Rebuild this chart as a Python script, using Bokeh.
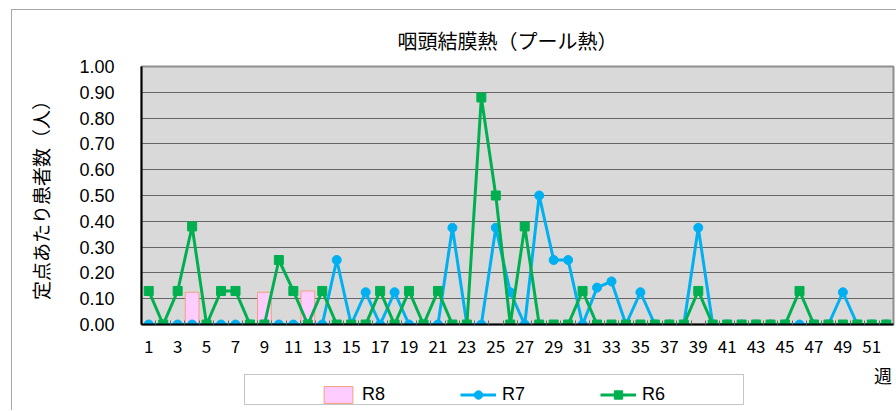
from bokeh.plotting import figure
from bokeh.layouts import column
from bokeh.models import (FixedTicker, NumeralTickFormatter, Legend, LegendItem, Range1d)
from bokeh.embed import file_html
from bokeh.resources import INLINE

# ---- data ----
weeks = list(range(1, 53))
x_tick_weeks = list(range(1, 52, 2))
y_ticks = [0.0, 0.1, 0.2, 0.3, 0.4, 0.5, 0.6, 0.7, 0.8, 0.9, 1.0]

r8 = [0, 0, 0, 0.125, 0, 0, 0, 0, 0.125, 0, 0, 0.13, 0]

r7 = [0, 0, 0, 0, 0, 0, 0, 0, 0, 0,
      0, 0, 0, 0.25, 0, 0.125, 0, 0.125, 0, 0,
      0, 0.375, 0, 0, 0.375, 0.125, 0, 0.5, 0.25, 0.25,
      0, 0.143, 0.167, 0, 0.125, 0, 0, 0, 0.375, 0,
      0, 0, 0, 0, 0, 0, 0, 0, 0.125, 0,
      0, 0]

r6 = [0.13, 0, 0.13, 0.38, 0, 0.13, 0.13, 0, 0, 0.25,
      0.13, 0, 0.13, 0, 0, 0, 0.13, 0, 0.13, 0,
      0.13, 0, 0, 0.88, 0.5, 0, 0.38, 0, 0, 0,
      0.13, 0, 0, 0, 0, 0, 0, 0, 0.13, 0,
      0, 0, 0, 0, 0, 0.13, 0, 0, 0, 0,
      0, 0]

series_names = ["R8", "R7", "R6"]
title_text = "咽頭結膜熱（プール熱）"
y_label = "定点あたり患者数（人）"
x_unit = "週"

JP = "Noto Sans CJK JP"
C8_FILL, C8_LINE = "#FFCCFF", "#F4A07E"
C7 = "#00B0F0"
C6 = "#00B050"

W = 884

# ================= main chart =================
p = figure(width=W, height=356,
           x_range=Range1d(0.5, 52.5), y_range=Range1d(0, 1.0),
           output_backend="svg", toolbar_location=None,
           min_border_left=129, min_border_right=3,
           min_border_top=56, min_border_bottom=42,
           background_fill_color="#d9d9d9", border_fill_color="white",
           outline_line_color="#8f8f8f", outline_line_width=2)
p.frame_align = False

p.title.text = title_text
p.title.text_font = JP
p.title.text_font_size = "20px"
p.title.text_font_style = "normal"
p.title.text_color = "black"
p.title.align = "left"
p.title.offset = 256
p.title.standoff = 24

p.xgrid.visible = False
p.ygrid.ticker = FixedTicker(ticks=y_ticks)
p.ygrid.grid_line_color = "#666666"
p.ygrid.grid_line_width = 1

xa = p.xaxis[0]
xa.ticker = FixedTicker(ticks=x_tick_weeks, minor_ticks=[w + 0.5 for w in weeks[:-1]])
xa.major_tick_line_color = None
xa.minor_tick_in = 4
xa.minor_tick_out = 0
xa.minor_tick_line_color = "#666666"
xa.axis_line_color = "black"
xa.axis_line_width = 2
xa.major_label_text_font = JP
xa.major_label_text_font_size = "17px"
xa.major_label_text_color = "black"
xa.major_label_standoff = 9

ya = p.yaxis[0]
ya.ticker = FixedTicker(ticks=y_ticks)
ya.formatter = NumeralTickFormatter(format="0.00")
ya.major_tick_out = 0
ya.major_tick_in = 0
ya.minor_tick_line_color = None
ya.axis_line_color = "black"
ya.axis_line_width = 2
ya.major_label_text_font = "Liberation Sans"
ya.major_label_text_font_size = "18px"
ya.major_label_text_color = "black"
ya.major_label_standoff = 27
ya.axis_label = y_label
ya.axis_label_text_font = JP
ya.axis_label_text_font_size = "19px"
ya.axis_label_text_font_style = "normal"
ya.axis_label_text_color = "black"
ya.axis_label_standoff = 22

r8_x = [w for w, v in zip(weeks, r8) if v > 0]
r8_top = [v for v in r8 if v > 0]
p.vbar(x=r8_x, top=r8_top, width=0.95, bottom=0,
       fill_color=C8_FILL, line_color=C8_LINE, line_width=1)
p.line(weeks, r7, line_color=C7, line_width=3)
p.scatter(weeks, r7, marker="circle", size=9, fill_color=C7, line_color=C7)
p.line(weeks, r6, line_color=C6, line_width=3)
p.scatter(weeks, r6, marker="square", size=9, fill_color=C6, line_color=C6)

# ================= legend strip (frame spans the whole strip) =================
q = figure(width=W, height=44, x_range=Range1d(0, 1), y_range=Range1d(0, 1),
           output_backend="svg", toolbar_location=None,
           x_axis_location=None, y_axis_location=None,
           min_border_left=0, min_border_right=0,
           min_border_top=0, min_border_bottom=0,
           background_fill_color="white", border_fill_color="white",
           outline_line_color=None)
q.frame_align = False
q.grid.visible = False

# legend proxies: tiny marks hidden behind the white legend frame
g8 = q.vbar(x=[0.5], top=[0.5], bottom=[0.45], width=0.005,
            fill_color=C8_FILL, line_color=C8_LINE)
g7l = q.line([0.49, 0.5], [0.47, 0.47], line_color=C7, line_width=3)
g7s = q.scatter([0.5], [0.47], marker="circle", size=5, fill_color=C7, line_color=C7)
g6l = q.line([0.49, 0.5], [0.47, 0.47], line_color=C6, line_width=3)
g6s = q.scatter([0.5], [0.47], marker="square", size=5, fill_color=C6, line_color=C6)
gbox = q.scatter([0.5], [0.47], size=1, fill_alpha=0, line_alpha=0)

# legend frame (white, covers the proxies)
box = Legend(items=[LegendItem(label=" ", renderers=[gbox])],
             location=(232, 5), orientation="horizontal", margin=0, padding=4,
             glyph_width=1, glyph_height=21, label_standoff=0, label_width=489,
             label_text_font="Liberation Sans", label_text_font_size="18px",
             border_line_color="#8c8c8c", border_line_width=1,
             background_fill_color="white", background_fill_alpha=1)
q.add_layout(box)

leg = Legend(items=[LegendItem(label=series_names[0], renderers=[g8]),
                    LegendItem(label=series_names[1], renderers=[g7l, g7s]),
                    LegendItem(label=series_names[2], renderers=[g6l, g6s])],
             location=(308, 5), orientation="horizontal", margin=0, padding=4,
             spacing=74, glyph_width=36, glyph_height=21, label_standoff=6,
             label_width=24, label_text_font="Liberation Sans",
             label_text_font_size="18px", label_text_color="black",
             border_line_color=None, background_fill_alpha=0)
q.add_layout(leg)

# unit of the week axis, at the right end
unit = Legend(items=[LegendItem(label=x_unit, renderers=[gbox])],
              location=(861, 22), orientation="horizontal", margin=0, padding=0,
              glyph_width=1, glyph_height=18, label_standoff=0, label_height=18,
              label_text_font=JP, label_text_font_size="18px",
              label_text_color="black",
              border_line_color=None, background_fill_alpha=0)
q.add_layout(unit)

layout = column(p, q, spacing=0)
layout.styles = {"border-left": "1px solid #a6a6a6", "border-top": "1px solid #a6a6a6",
                 "margin-left": "11px", "margin-top": "9px"}

open("out.html", "w").write(file_html(layout, INLINE))
